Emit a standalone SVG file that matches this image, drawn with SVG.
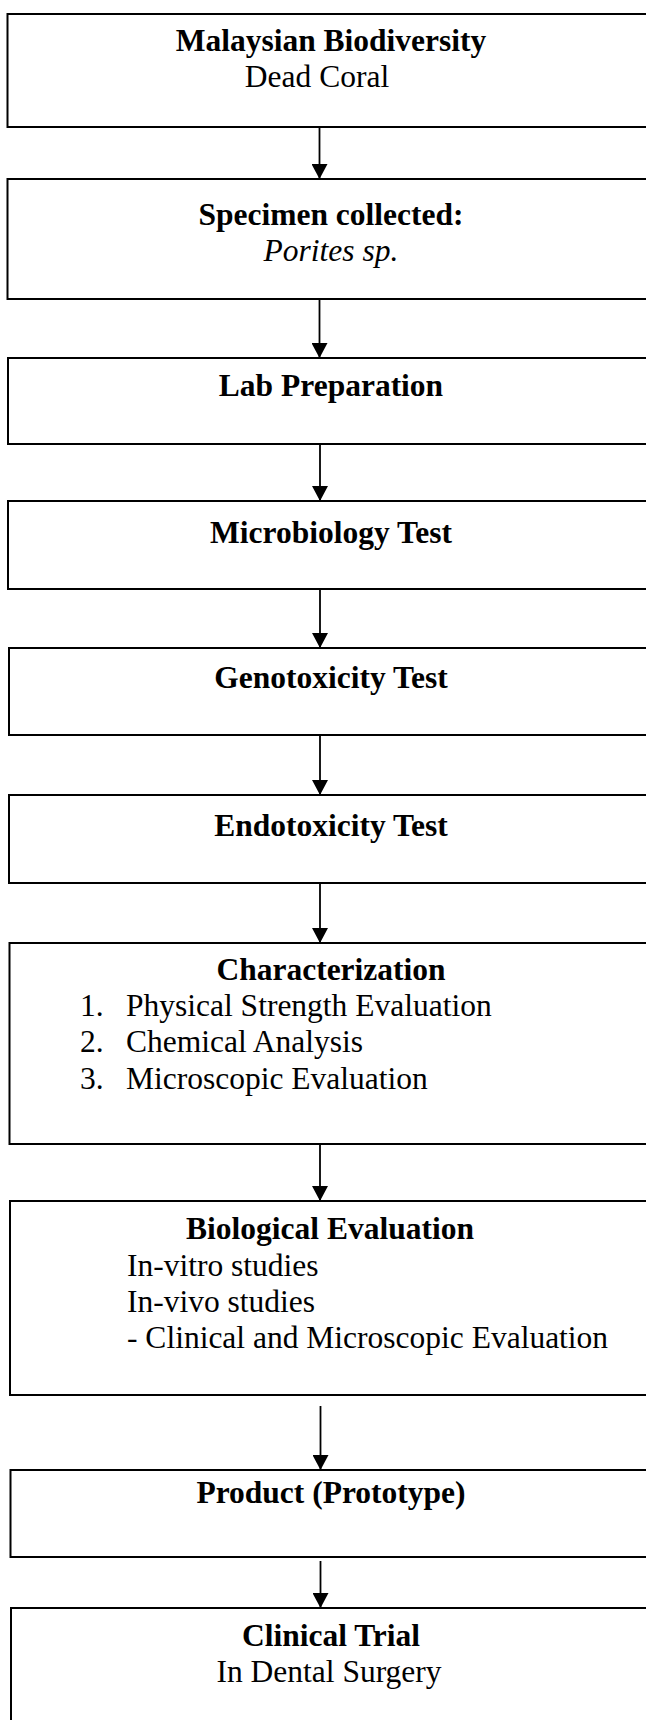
<svg xmlns="http://www.w3.org/2000/svg" width="646" height="1720" viewBox="0 0 646 1720">
<style>
.box{fill:#fff;stroke:#000;stroke-width:2}
.t{font-family:"Liberation Serif","Times New Roman",serif;font-size:31.5px;fill:#000}
.b{font-weight:bold}
.c{text-anchor:middle}
.i{font-style:italic}
.con line{stroke:#000;stroke-width:1.8}
</style>
<defs>
<marker id="ah" viewBox="0 0 15 16" refX="15" refY="8" markerWidth="15" markerHeight="16" markerUnits="userSpaceOnUse" orient="auto">
<path d="M0 0 L15 8 L0 16 Z" fill="#000"/>
</marker>
</defs>
<rect width="646" height="1720" fill="#fff"/>
<g id="n1"><rect class="box" x="7.5" y="14" width="660" height="113"/>
<text class="t b c" x="331" y="51">Malaysian Biodiversity</text>
<text class="t c" x="317" y="87">Dead Coral</text></g>
<g id="n2"><rect class="box" x="7.5" y="179" width="660" height="120"/>
<text class="t b c" x="331" y="225">Specimen collected:</text>
<text class="t i c" x="331" y="261">Porites sp.</text></g>
<g id="n3"><rect class="box" x="8" y="358" width="660" height="86"/>
<text class="t b c" x="331" y="396">Lab Preparation</text></g>
<g id="n4"><rect class="box" x="8" y="501" width="660" height="88"/>
<text class="t b c" x="331" y="543">Microbiology Test</text></g>
<g id="n5"><rect class="box" x="9" y="648" width="660" height="87"/>
<text class="t b c" x="331" y="688">Genotoxicity Test</text></g>
<g id="n6"><rect class="box" x="9" y="795" width="660" height="88"/>
<text class="t b c" x="331" y="836">Endotoxicity Test</text></g>
<g id="n7"><rect class="box" x="9.5" y="943" width="660" height="201"/>
<text class="t b c" x="331" y="980">Characterization</text>
<text class="t" x="80" y="1016">1.</text><text class="t" x="126" y="1016">Physical Strength Evaluation</text>
<text class="t" x="80" y="1052">2.</text><text class="t" x="126" y="1052">Chemical Analysis</text>
<text class="t" x="80" y="1089">3.</text><text class="t" x="126" y="1089">Microscopic Evaluation</text></g>
<g id="n8"><rect class="box" x="10" y="1201" width="660" height="194"/>
<text class="t b c" x="330" y="1239">Biological Evaluation</text>
<text class="t" x="127" y="1276">In-vitro studies</text>
<text class="t" x="127" y="1312">In-vivo studies</text>
<text class="t" x="127" y="1348">- Clinical and Microscopic Evaluation</text></g>
<g id="n9"><rect class="box" x="10.5" y="1470" width="660" height="87"/>
<text class="t b c" x="331" y="1503">Product (Prototype)</text></g>
<g id="n10"><rect class="box" x="11" y="1608" width="660" height="130"/>
<text class="t b c" x="331" y="1646">Clinical Trial</text>
<text class="t c" x="329" y="1682">In Dental Surgery</text></g>
<g id="connectors" class="con">
<line x1="319.5" y1="127" x2="319.5" y2="179" marker-end="url(#ah)"/>
<line x1="319.5" y1="299" x2="319.5" y2="358" marker-end="url(#ah)"/>
<line x1="320" y1="444" x2="320" y2="501" marker-end="url(#ah)"/>
<line x1="320" y1="589" x2="320" y2="648" marker-end="url(#ah)"/>
<line x1="320" y1="735" x2="320" y2="795" marker-end="url(#ah)"/>
<line x1="320" y1="883" x2="320" y2="943" marker-end="url(#ah)"/>
<line x1="320" y1="1144" x2="320" y2="1201" marker-end="url(#ah)"/>
<line x1="320.5" y1="1406" x2="320.5" y2="1470" marker-end="url(#ah)"/>
<line x1="320.5" y1="1561" x2="320.5" y2="1608" marker-end="url(#ah)"/>
</g>
</svg>
